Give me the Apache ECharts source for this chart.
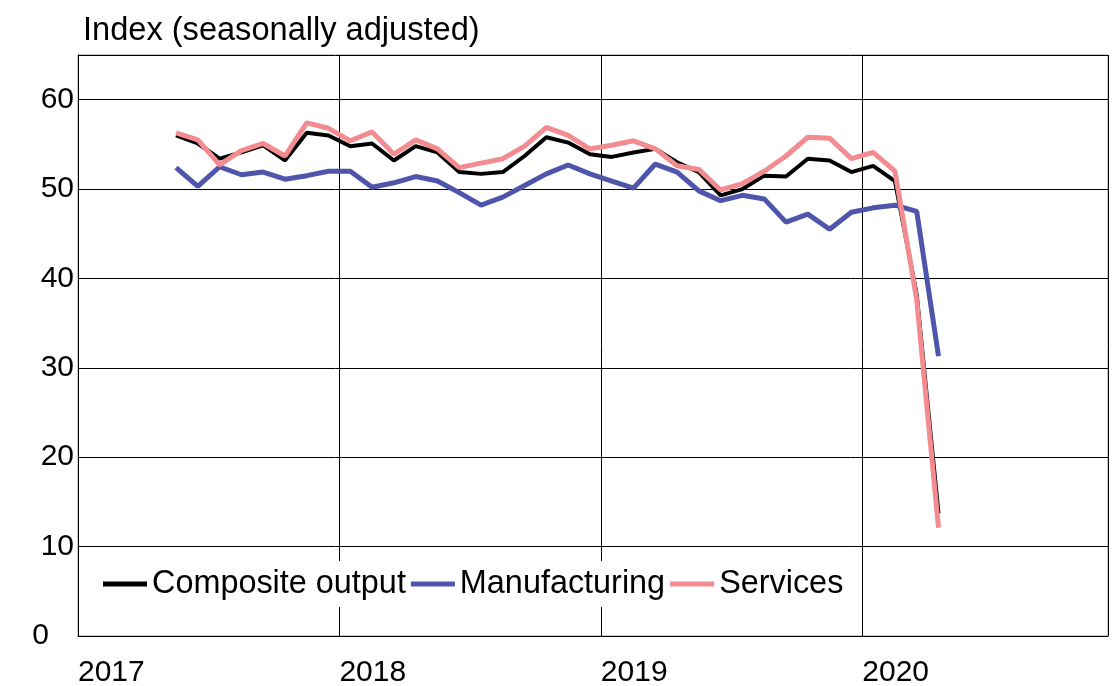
<!DOCTYPE html>
<html>
<head>
<meta charset="utf-8">
<script src="https://cdn.jsdelivr.net/npm/echarts@6/dist/echarts.min.js"></script>
<style>
  html, body { margin: 0; padding: 0; background: #fff; }
  #chart { width: 1112px; height: 686px; }
</style>
</head>
<body>
<div id="chart"></div>
<script>
// monthly survey points, May 2017 .. Apr 2020
const months = [
  '2017-05', '2017-06', '2017-07', '2017-08', '2017-09', '2017-10', '2017-11', '2017-12',
  '2018-01', '2018-02', '2018-03', '2018-04', '2018-05', '2018-06', '2018-07', '2018-08',
  '2018-09', '2018-10', '2018-11', '2018-12', '2019-01', '2019-02', '2019-03', '2019-04',
  '2019-05', '2019-06', '2019-07', '2019-08', '2019-09', '2019-10', '2019-11', '2019-12',
  '2020-01', '2020-02', '2020-03', '2020-04'
]
const composite = [
  56.0, 55.1, 53.4, 54.1, 54.9, 53.2, 56.3, 56.0,
  54.8, 55.1, 53.2, 54.8, 54.1, 51.9, 51.7, 51.9,
  53.7, 55.8, 55.2, 53.9, 53.6, 54.1, 54.5, 53.0,
  51.9, 49.3, 50.0, 51.5, 51.4, 53.4, 53.2, 51.9,
  52.6, 50.9, 38.2, 13.7
]
const manufacturing = [
  52.4, 50.3, 52.5, 51.6, 51.9, 51.1, 51.5, 52.0,
  52.0, 50.2, 50.7, 51.4, 50.9, 49.6, 48.2, 49.1,
  50.4, 51.7, 52.7, 51.7, 50.9, 50.1, 52.8, 51.9,
  49.8, 48.7, 49.3, 48.9, 46.3, 47.2, 45.5, 47.4,
  47.9, 48.2, 47.5, 31.3
]
const services = [
  56.3, 55.5, 52.7, 54.3, 55.1, 53.7, 57.4, 56.8,
  55.4, 56.4, 53.9, 55.5, 54.5, 52.4, 52.9, 53.4,
  54.8, 56.9, 56.0, 54.5, 54.9, 55.4, 54.5, 52.6,
  52.2, 49.9, 50.6, 52.0, 53.7, 55.8, 55.7, 53.4,
  54.1, 52.0, 37.6, 12.1
]
const seriesNames = ['Composite output', 'Manufacturing', 'Services']
const seriesColors = ['#000000', '#4f55aa', '#f28c90']

// month string -> fractional year (middle of the month)
function monthPos(m) {
  const y = parseInt(m.slice(0, 4))
  const mo = parseInt(m.slice(5, 7))
  return y + (mo - 0.5) / 12
}

function pairs(values) {
  return values.map((v, i) => [monthPos(months[i]), v])
}

const font = 'Liberation Sans, Arial, sans-serif'
const myChart = echarts.init(document.getElementById('chart'))

const option = {
  animation: false,
  backgroundColor: '#fff',
  title: {
    text: 'Index (seasonally adjusted)',
    left: 78,
    top: 10,
    textStyle: { fontFamily: font, fontSize: 32.6, fontWeight: 'normal', color: '#000' }
  },
  grid: {
    left: 78,
    right: 4,
    top: 55,
    bottom: 50,
    outerBoundsMode: 'none',
    show: true,
    borderColor: '#999',
    borderWidth: 1
  },
  legend: {
    left: 96,
    top: 561,
    padding: [7, 7],
    backgroundColor: '#fff',
    itemWidth: 44,
    itemHeight: 5,
    itemGap: 5,
    icon: 'rect',
    data: seriesNames,
    textStyle: { fontFamily: font, fontSize: 32.4, color: '#000' }
  },
  xAxis: {
    type: 'value',
    min: 2017,
    max: 2020.94,
    interval: 1,
    axisLine: { show: true, lineStyle: { color: '#000', width: 1 } },
    axisTick: { show: false },
    splitLine: { show: true, lineStyle: { color: '#000', width: 1 } },
    axisLabel: {
      align: 'left',
      margin: 22,
      fontFamily: font,
      fontSize: 30,
      color: '#000',
      formatter: (v) => (Number.isInteger(v) ? String(v) : '')
    }
  },
  yAxis: {
    type: 'value',
    min: 0,
    max: 65,
    interval: 10,
    axisLine: { show: true, lineStyle: { color: '#000', width: 1 } },
    axisTick: { show: false },
    splitLine: { show: true, lineStyle: { color: '#000', width: 1 } },
    axisLabel: {
      margin: 4,
      fontFamily: font,
      fontSize: 30,
      color: '#000',
      // the zero label sits further left in the original
      formatter: (v) => {
        if (v === 0) return '0\u00a0\u00a0\u00a0'
        return v % 10 === 0 ? String(v) : ''
      }
    }
  },
  series: [
    {
      name: seriesNames[0],
      type: 'line',
      data: pairs(composite),
      showSymbol: false,
      color: seriesColors[0],
      lineStyle: { width: 4, color: seriesColors[0] }
    },
    {
      name: seriesNames[1],
      type: 'line',
      data: pairs(manufacturing),
      showSymbol: false,
      color: seriesColors[1],
      lineStyle: { width: 5, color: seriesColors[1] }
    },
    {
      name: seriesNames[2],
      type: 'line',
      data: pairs(services),
      showSymbol: false,
      color: seriesColors[2],
      lineStyle: { width: 5, color: seriesColors[2] }
    }
  ]
}
myChart.setOption(option)
</script>
</body>
</html>
